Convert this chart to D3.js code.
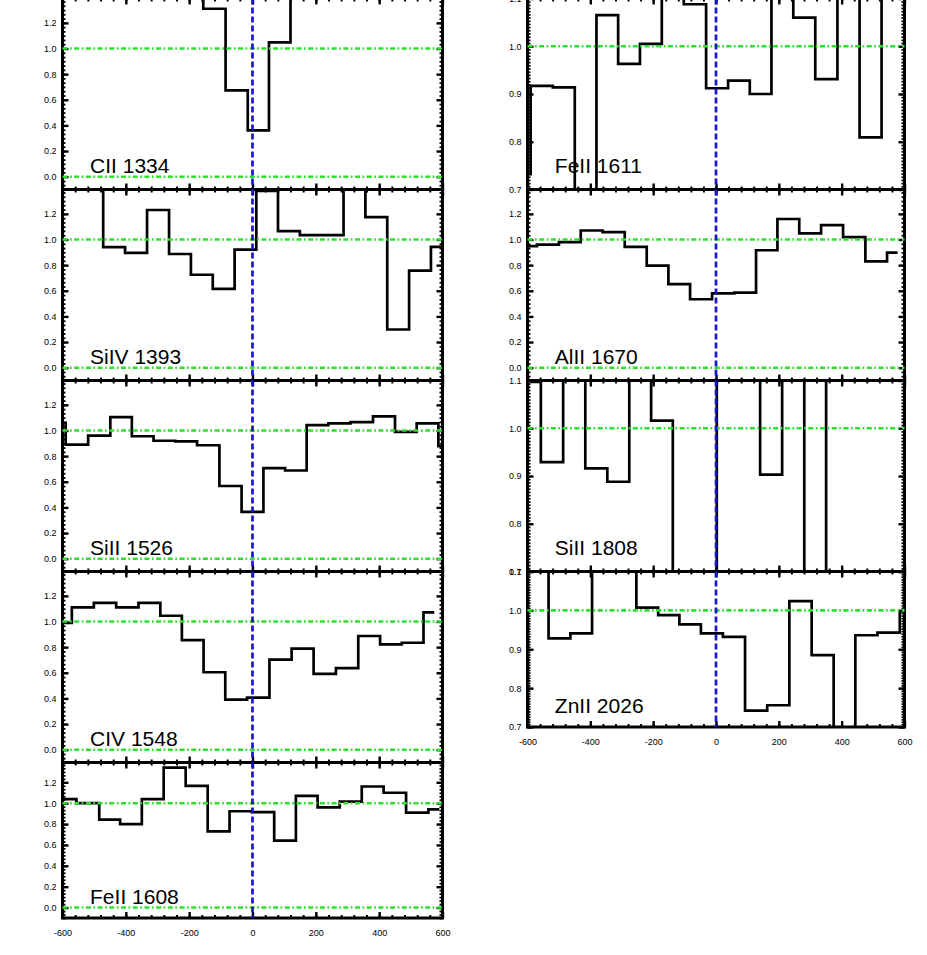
<!DOCTYPE html>
<html><head><meta charset="utf-8">
<script src="https://cdn.jsdelivr.net/npm/d3@7"></script>
<style>body{margin:0;background:#fff;} svg{display:block;}</style>
</head><body><svg id="c" width="927" height="955"></svg>
<script>
// ---------- data (velocity km/s, normalized flux) ----------
const panelLabels = ["CII 1334","SiIV 1393","SiII 1526","CIV 1548","FeII 1608",
                     "FeII 1611","AlII 1670","SiII 1808","ZnII 2026"];

const vCII1334 = [-190,-121,-49,19,85,155];
const fCII1334 = [1.5,1.31,0.673,0.361,1.047,1.5];

const vSiIV1393 = [-506,-437,-368,-298,-229,-160,-91,-22,46,115,184,253,322,391,460,529,598];
const fSiIV1393 = [1.5,0.94,0.895,1.23,0.887,0.725,0.615,0.921,1.38,1.065,1.034,1.034,1.5,1.175,0.298,0.757,0.942];

const vSiII1526 = [-625,-555,-483,-415,-347,-278,-210,-140,-69,0,69,137,205,274,345,416,484,553,621];
const fSiII1526 = [1.06,0.89,0.96,1.105,0.955,0.92,0.915,0.885,0.567,0.365,0.706,0.688,1.042,1.055,1.066,1.11,0.99,1.055,0.877];

const vCIV1548 = [-605,-536,-466,-395,-325,-257,-189,-120,-52,18,89,158,228,299,369,437,506,574];
const fCIV1548 = [0.99,1.11,1.145,1.11,1.145,1.045,0.855,0.604,0.39,0.406,0.702,0.789,0.591,0.636,0.887,0.821,0.834,1.071];

const vFeII1608 = [-596,-516,-452,-384,-315,-246,-176,-107,-38,34,103,171,240,311,379,449,521,590];
const fFeII1608 = [1.04,1.0,0.843,0.80,1.04,1.34,1.166,0.73,0.923,0.915,0.642,1.07,0.96,1.015,1.16,1.1,0.91,0.94];

const vFeII1611 = [-625,-555,-484,-415,-346,-277,-207,-138,-67,4,73,142,211,281,351,422,492,562];
const fFeII1611 = [0.732,0.917,0.914,0.6,1.065,0.963,1.005,1.2,1.088,0.912,0.928,0.90,1.2,1.06,0.931,1.2,0.809,1.2];

const vAlII1670 = [-605,-535,-465,-396,-326,-255,-186,-117,-48,23,94,161,230,300,369,440,511,578];
const fAlII1670 = [0.948,0.96,0.98,1.07,1.058,0.942,0.796,0.652,0.534,0.58,0.585,0.916,1.16,1.047,1.112,1.018,0.83,0.898];

const vSiII1808 = [-593,-522,-451,-381,-311,-241,-172,-103,-32,37,106,175,246,316,385];
const fSiII1808 = [1.097,0.929,1.2,0.916,0.888,1.2,1.016,0.6,0.6,1.2,1.2,0.903,1.2,0.6,1.2];

const vZnII2026 = [-568,-498,-429,-360,-289,-218,-150,-83,-13,57,128,198,269,340,409,478,550,620];
const fZnII2026 = [1.2,0.928,0.941,1.2,1.2,1.007,0.988,0.964,0.941,0.932,0.742,0.756,1.024,0.885,0.6,0.936,0.943,0.998];

const xRange = [-600, 600];
const xTickValues = [-600,-400,-200,0,200,400,600];
const wideRange = [-0.1, 1.39];
const narrowRange = [0.7, 1.1];
const wideYTicks = [0.0,0.2,0.4,0.6,0.8,1.0,1.2];
const narrowYTicks = [0.7,0.8,0.9,1.0,1.1];
const refLevels = [0, 1];
const centerVelocity = 0;

// ---------- panel table ----------
const velocities = [vCII1334,vSiIV1393,vSiII1526,vCIV1548,vFeII1608,vFeII1611,vAlII1670,vSiII1808,vZnII2026];
const fluxes = [fCII1334,fSiIV1393,fSiII1526,fCIV1548,fFeII1608,fFeII1611,fAlII1670,fSiII1808,fZnII2026];
const narrowFlags = [false,false,false,false,false,true,false,true,true];
const panels = panelLabels.map((lab,i)=>({
  label: lab, v: velocities[i], f: fluxes[i],
  col: i<5 ? 0 : 1, row: i<5 ? i : i-5,
  last: i===4 || i===8,
  narrow: narrowFlags[i]
}));

// ---------- layout ----------
const svg = d3.select('#c');
svg.append('rect').attr('width',927).attr('height',955).attr('fill','#fff');
const defs = svg.append('defs');
const colX = [[62.5,442.5],[527.5,904.5]];
const rowB = [-1.5,189.5,380.5,571.5,762.5];
const lastH = 155.5;
const FONT = "'Liberation Sans', Arial, Helvetica, sans-serif";

panels.forEach((p,i)=>{
  const [x0,x1] = colX[p.col];
  const top = rowB[p.row];
  const bottom = p.last ? top + lastH : rowB[p.row+1];
  const yDom = p.narrow ? narrowRange : wideRange;
  const yTicks = p.narrow ? narrowYTicks : wideYTicks;
  const x = d3.scaleLinear().domain(xRange).range([x0,x1]);
  const y = d3.scaleLinear().domain(yDom).range([bottom, top]);
  const clipId = 'clip'+i;
  defs.append('clipPath').attr('id',clipId).append('rect')
    .attr('x',x0).attr('y',top).attr('width',x1-x0).attr('height',bottom-top);

  const g = svg.append('g');

  // frame
  g.append('rect').attr('x',x0).attr('y',top).attr('width',x1-x0).attr('height',bottom-top)
    .attr('fill','none').attr('stroke','#000').attr('stroke-width',3);

  // axes (ticks inward)
  const xMinor = d3.range(xRange[0], xRange[1]+1, 40);
  const yStep = p.narrow ? 0.1/15 : 0.2/6;
  const yMinor = d3.range(Math.ceil(yDom[0]/yStep - 1e-6), Math.floor(yDom[1]/yStep + 1e-6)+1).map(k=>k*yStep);
  const fmtX = d => String(d);
  const fmtY = d3.format('.1f');
  const none = () => '';
  function styleAxis(sel, w){
    sel.select('.domain').remove();
    sel.selectAll('.tick line').attr('stroke','#000').attr('stroke-width',w);
    sel.selectAll('.tick text').attr('fill','#000').attr('font-family',FONT).attr('font-size',9);
  }
  // bottom
  g.append('g').attr('transform',`translate(0,${bottom})`)
    .call(d3.axisBottom(x).tickValues(xMinor).tickSize(-3).tickFormat(none)).call(s=>styleAxis(s,2));
  g.append('g').attr('transform',`translate(0,${bottom})`)
    .call(d3.axisBottom(x).tickValues(xTickValues).tickSize(-6).tickPadding(12).tickFormat(p.last ? fmtX : none))
    .call(s=>styleAxis(s,2.4));
  // top
  g.append('g').attr('transform',`translate(0,${top})`)
    .call(d3.axisTop(x).tickValues(xMinor).tickSize(-3).tickFormat(none)).call(s=>styleAxis(s,2));
  g.append('g').attr('transform',`translate(0,${top})`)
    .call(d3.axisTop(x).tickValues(xTickValues).tickSize(-6).tickFormat(none)).call(s=>styleAxis(s,2.4));
  // left
  g.append('g').attr('transform',`translate(${x0},0)`)
    .call(d3.axisLeft(y).tickValues(yMinor).tickSize(-3).tickFormat(none)).call(s=>styleAxis(s,1.8));
  g.append('g').attr('transform',`translate(${x0},0)`)
    .call(d3.axisLeft(y).tickValues(yTicks).tickSize(-6).tickPadding(6).tickFormat(fmtY))
    .call(s=>styleAxis(s,2.4));
  // right
  g.append('g').attr('transform',`translate(${x1},0)`)
    .call(d3.axisRight(y).tickValues(yMinor).tickSize(-3).tickFormat(none)).call(s=>styleAxis(s,1.8));
  g.append('g').attr('transform',`translate(${x1},0)`)
    .call(d3.axisRight(y).tickValues(yTicks).tickSize(-6).tickFormat(none)).call(s=>styleAxis(s,2.4));

  // data histogram
  const line = d3.line().x(d=>x(d[0])).y(d=>y(d[1])).curve(d3.curveStep);
  g.append('path').datum(d3.zip(p.v, p.f)).attr('d', line)
    .attr('fill','none').attr('stroke','#000').attr('stroke-width',2.7)
    .attr('stroke-linejoin','miter').attr('clip-path',`url(#${clipId})`);

  // reference levels (green dash-dot)
  refLevels.forEach(lv=>{
    if (lv < yDom[0] || lv > yDom[1]) return;
    g.append('line').attr('x1',x(xRange[0])).attr('x2',x(xRange[1]))
      .attr('y1',y(lv)).attr('y2',y(lv))
      .attr('stroke','#2ee02e').attr('stroke-width',2.6)
      .attr('stroke-dasharray','5,2.5,1.7,2.5');
  });

  // zero velocity (blue dashed)
  g.append('line').attr('x1',x(centerVelocity)).attr('x2',x(centerVelocity))
    .attr('y1',top).attr('y2',bottom)
    .attr('stroke','#1616cc').attr('stroke-width',2.7).attr('stroke-dasharray','6,3');

  // label
  const labelY = yDom[0] + (p.narrow ? 0.035 : 0.13);
  g.append('text').attr('x',x(-513)).attr('y',y(labelY))
    .attr('font-family',FONT).attr('font-size',21).attr('fill','#000')
    .text(p.label);
});
</script>
</body></html>
